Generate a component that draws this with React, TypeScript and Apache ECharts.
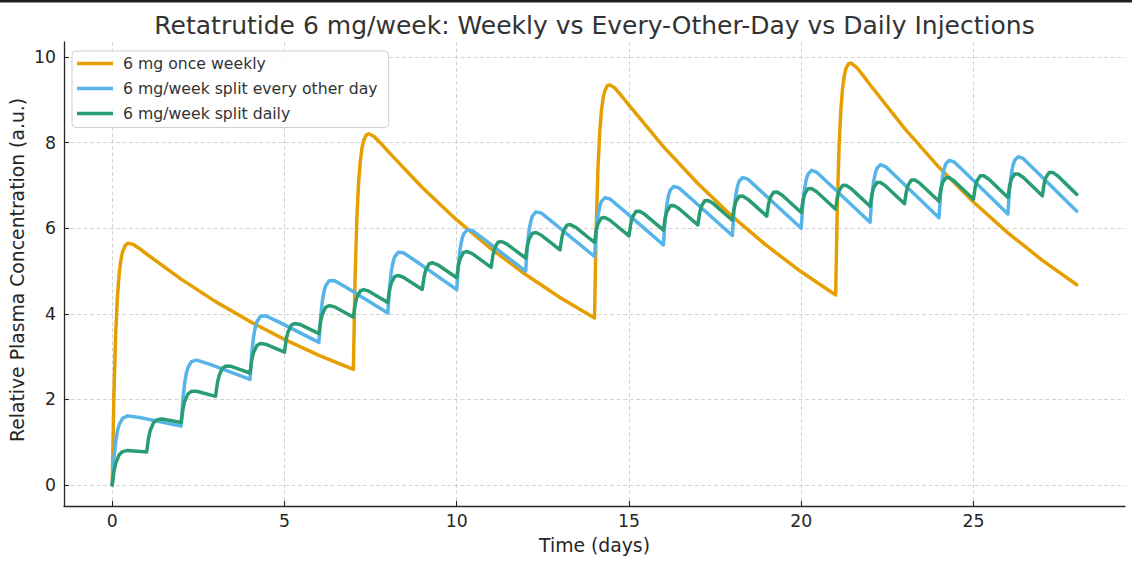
import React, { useEffect, useRef } from "react";
import * as echarts from "echarts";

const chartTitle = "Retatrutide 6 mg/week: Weekly vs Every-Other-Day vs Daily Injections";
const xAxisTitle = "Time (days)";
const yAxisTitle = "Relative Plasma Concentration (a.u.)";
const seriesNames = [
  "6 mg once weekly",
  "6 mg/week split every other day",
  "6 mg/week split daily",
];
const seriesColors = ["#E69F00", "#56B4E9", "#289D74"];
const xTicks = [0, 5, 10, 15, 20, 25];
const yTicks = [0, 2, 4, 6, 8, 10];

// Once weekly: dose days, sample offsets after each dose, values per dose interval
const weeklyDoseDays = [0, 7, 14, 21];
const weeklyOffsets = [0, 0.05, 0.1, 0.15, 0.2, 0.25, 0.3, 0.375, 0.45, 0.6, 0.8, 1, 2, 3, 4, 5, 6];
const weeklyValues = [
  [0, 2.161, 3.527, 4.385, 4.92, 5.249, 5.446, 5.596, 5.647, 5.627, 5.521, 5.398, 4.81, 4.285, 3.818, 3.401, 3.03],
  [2.7, 4.845, 6.196, 7.039, 7.558, 7.872, 8.054, 8.182, 8.21, 8.146, 7.983, 7.803, 6.953, 6.195, 5.519, 4.917, 4.381],
  [3.903, 6.041, 7.385, 8.221, 8.734, 9.041, 9.216, 9.334, 9.352, 9.269, 9.08, 8.876, 7.908, 7.045, 6.277, 5.592, 4.982],
  [4.439, 6.574, 7.915, 8.748, 9.258, 9.562, 9.734, 9.847, 9.861, 9.769, 9.568, 9.354, 8.333, 7.424, 6.615, 5.893, 5.25],
];
const weeklyEnd = [28, 4.678];

// Every other day
const eodDoseDays = [0, 2, 4, 6, 8, 10, 12, 14, 16, 18, 20, 22, 24, 26];
const eodOffsets = [0, 0.05, 0.1, 0.15, 0.2, 0.3, 0.45, 0.8];
const eodValues = [
  [0, 0.617, 1.008, 1.253, 1.406, 1.556, 1.614, 1.577],
  [1.374, 1.983, 2.366, 2.603, 2.749, 2.883, 2.918, 2.83],
  [2.465, 3.068, 3.445, 3.676, 3.815, 3.937, 3.954, 3.824],
  [3.331, 3.929, 4.301, 4.527, 4.661, 4.774, 4.776, 4.614],
  [4.018, 4.612, 4.98, 5.202, 5.332, 5.437, 5.428, 5.24],
  [4.564, 5.155, 5.52, 5.739, 5.866, 5.965, 5.947, 5.738],
  [4.997, 5.585, 5.948, 6.164, 6.289, 6.383, 6.358, 6.133],
  [5.34, 5.926, 6.287, 6.501, 6.624, 6.714, 6.684, 6.446],
  [5.613, 6.198, 6.557, 6.77, 6.891, 6.978, 6.943, 6.695],
  [5.83, 6.413, 6.771, 6.983, 7.103, 7.187, 7.149, 6.892],
  [6.001, 6.583, 6.94, 7.151, 7.27, 7.353, 7.311, 7.048],
  [6.138, 6.72, 7.076, 7.286, 7.404, 7.485, 7.441, 7.173],
  [6.246, 6.827, 7.182, 7.392, 7.509, 7.589, 7.544, 7.272],
  [6.332, 6.913, 7.267, 7.476, 7.593, 7.672, 7.625, 7.35],
];
const eodEnd = [28, 6.4];

// Daily
const dailyDoseDays = [0, 1, 2, 3, 4, 5, 6, 7, 8, 9, 10, 11, 12, 13, 14, 15, 16, 17, 18, 19, 20, 21, 22, 23, 24, 25, 26, 27];
const dailyOffsets = [0, 0.05, 0.1, 0.2, 0.3, 0.45];
const dailyValues = [
  [0, 0.309, 0.504, 0.703, 0.778, 0.807],
  [0.771, 1.076, 1.266, 1.457, 1.523, 1.539],
  [1.458, 1.759, 1.946, 2.128, 2.187, 2.191],
  [2.071, 2.367, 2.551, 2.726, 2.778, 2.773],
  [2.616, 2.91, 3.09, 3.259, 3.305, 3.29],
  [3.102, 3.393, 3.57, 3.734, 3.774, 3.752],
  [3.535, 3.823, 3.998, 4.157, 4.193, 4.163],
  [3.921, 4.207, 4.379, 4.534, 4.565, 4.529],
  [4.264, 4.548, 4.719, 4.87, 4.897, 4.855],
  [4.57, 4.853, 5.022, 5.169, 5.193, 5.146],
  [4.843, 5.124, 5.291, 5.435, 5.456, 5.405],
  [5.086, 5.365, 5.531, 5.673, 5.691, 5.635],
  [5.303, 5.581, 5.745, 5.884, 5.9, 5.841],
  [5.495, 5.772, 5.936, 6.073, 6.086, 6.024],
  [5.667, 5.943, 6.106, 6.241, 6.252, 6.187],
  [5.82, 6.096, 6.257, 6.39, 6.4, 6.332],
  [5.957, 6.231, 6.392, 6.524, 6.532, 6.462],
  [6.078, 6.352, 6.512, 6.642, 6.649, 6.577],
  [6.187, 6.46, 6.619, 6.748, 6.754, 6.68],
  [6.283, 6.556, 6.715, 6.842, 6.847, 6.771],
  [6.369, 6.641, 6.8, 6.926, 6.93, 6.853],
  [6.445, 6.717, 6.875, 7.001, 7.004, 6.926],
  [6.514, 6.785, 6.943, 7.068, 7.07, 6.99],
  [6.574, 6.845, 7.003, 7.127, 7.129, 7.048],
  [6.629, 6.899, 7.056, 7.18, 7.181, 7.1],
  [6.677, 6.947, 7.104, 7.227, 7.228, 7.145],
  [6.72, 6.99, 7.146, 7.269, 7.269, 7.186],
  [6.758, 7.028, 7.184, 7.306, 7.306, 7.223],
];
const dailyEnd = [28, 6.792];

function buildPoints(days: number[], offsets: number[], rows: number[][], end: number[]) {
  const pts: number[][] = [];
  days.forEach((d, i) => {
    offsets.forEach((o, j) => {
      pts.push([Math.round((d + o) * 1000) / 1000, rows[i][j]]);
    });
  });
  pts.push(end);
  return pts;
}

const FONT = "DejaVu Sans";
const TEXT = "#262626";

export default function App() {
  const ref = useRef<HTMLDivElement>(null);

  useEffect(() => {
    if (!ref.current) return;
    const chart = echarts.init(ref.current, undefined, { renderer: "svg" });
    const datasets = [
      buildPoints(weeklyDoseDays, weeklyOffsets, weeklyValues, weeklyEnd),
      buildPoints(eodDoseDays, eodOffsets, eodValues, eodEnd),
      buildPoints(dailyDoseDays, dailyOffsets, dailyValues, dailyEnd),
    ];
    const gridLine = { type: [4, 2.5], color: "#cfcfcf", width: 0.9 };
    chart.setOption({
      animation: false,
      textStyle: { fontFamily: FONT },
      grid: { left: 64, right: 7, top: 42, bottom: 60, containLabel: false },
      xAxis: {
        type: "value",
        min: -1.4,
        max: 29.4,
        axisLine: { onZero: false, lineStyle: { color: TEXT, width: 1.3 } },
        axisTick: { show: true, inside: true, length: 5, customValues: xTicks, lineStyle: { color: TEXT, width: 1.1 } },
        axisLabel: {
          customValues: xTicks,
          fontSize: 17.3,
          color: TEXT,
          margin: 6,
          fontFamily: FONT,
        },
        splitLine: { show: true, lineStyle: gridLine },
      },
      yAxis: {
        type: "value",
        min: -0.493,
        max: 10.354,
        axisLine: { show: true, onZero: false, lineStyle: { color: TEXT, width: 1.3 } },
        axisTick: { show: true, inside: true, length: 5, customValues: yTicks, lineStyle: { color: TEXT, width: 1.1 } },
        axisLabel: {
          customValues: yTicks,
          fontSize: 17.3,
          color: TEXT,
          margin: 8,
          fontFamily: FONT,
        },
        splitLine: { show: true, lineStyle: gridLine },
      },
      legend: {
        orient: "vertical",
        left: 72,
        top: 51,
        padding: [4.5, 11, 6, 5],
        itemGap: 9,
        itemWidth: 36,
        itemHeight: 3.5,
        icon: "rect",
        backgroundColor: "rgba(255,255,255,0.85)",
        borderColor: "#d0d0d0",
        borderWidth: 1,
        borderRadius: 4,
        textStyle: { fontSize: 15.7, color: "#333333", padding: [0, 0, 0, 5], lineHeight: 15, fontFamily: FONT },
        data: seriesNames,
      },
      graphic: [
        { type: "rect", left: 0, top: 0, shape: { width: 1132, height: 2.5 }, style: { fill: "#1e1e1e" } },
        {
          type: "text",
          x: 594.5,
          y: 25,
          style: { text: chartTitle, fontSize: 25, fill: "#333333", align: "center", verticalAlign: "middle", fontFamily: FONT },
        },
        {
          type: "text",
          x: 594.5,
          y: 545,
          style: { text: xAxisTitle, fontSize: 18.8, fill: TEXT, align: "center", verticalAlign: "middle", fontFamily: FONT },
        },
        {
          type: "text",
          x: 17,
          y: 270,
          rotation: Math.PI / 2,
          style: { text: yAxisTitle, fontSize: 18.8, fill: TEXT, align: "center", verticalAlign: "middle", fontFamily: FONT },
        },
      ],
      series: datasets.map((data, i) => ({
        type: "line",
        name: seriesNames[i],
        data,
        symbol: "none",
        showSymbol: false,
        smooth: false,
        lineStyle: { width: 3.5, color: seriesColors[i], join: "round", cap: "round" },
        itemStyle: { color: seriesColors[i] },
        z: 2 + i,
      })),
    });
    return () => chart.dispose();
  }, []);

  return (
    <div
      ref={ref}
      style={{ position: "absolute", left: 0, top: 0, width: 1132, height: 566, background: "#ffffff" }}
    />
  );
}
